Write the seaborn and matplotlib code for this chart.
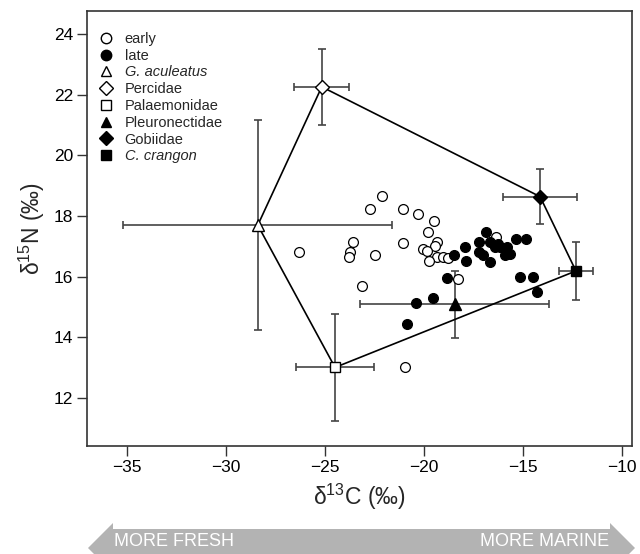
import matplotlib
matplotlib.use("Agg")
import matplotlib.pyplot as plt
import seaborn as sns
import numpy as np
import pandas as pd
from matplotlib.lines import Line2D
from matplotlib.patches import Polygon

# ---------------- data ----------------
early_x = [-22.13, -22.75, -21.05, -20.30, -19.49, -19.80, -23.56, -21.04, -19.32, -19.44,
           -26.29, -23.73, -23.78, -22.45, -20.06, -19.86, -19.32, -19.02, -18.80, -19.76,
           -23.14, -18.29, -20.94, -16.36]
early_y = [18.67, 18.23, 18.22, 18.08, 17.83, 17.46, 17.15, 17.10, 17.14, 17.01,
           16.82, 16.80, 16.64, 16.70, 16.90, 16.85, 16.66, 16.64, 16.62, 16.52,
           15.69, 15.92, 13.01, 17.32]

late_x = [-18.48, -17.91, -17.86, -17.20, -17.20, -18.85, -19.53, -20.41, -20.87, -16.87,
          -16.66, -16.25, -16.41, -16.16, -15.82, -15.35, -14.85, -17.03, -16.66, -15.91,
          -15.66, -15.15, -14.48, -14.31]
late_y = [16.71, 16.97, 16.52, 17.13, 16.82, 15.95, 15.31, 15.14, 14.43, 17.46,
          17.15, 17.08, 16.97, 16.99, 16.99, 17.24, 17.24, 16.71, 16.49, 16.71,
          16.74, 15.98, 15.98, 15.49]

groups = ["G. aculeatus", "Percidae", "Palaemonidae", "Pleuronectidae", "Gobiidae", "C. crangon"]
group_x = [-28.39, -25.16, -24.49, -18.45, -14.14, -12.33]
group_y = [17.70, 22.26, 13.01, 15.09, 18.64, 16.19]
group_xerr = [6.80, 1.39, 1.96, 4.78, 1.85, 0.88]
group_yerr = [3.47, 1.25, 1.76, 1.10, 0.90, 0.95]
group_marker = ["^", "D", "s", "^", "D", "s"]
group_filled = [False, False, False, True, True, True]

# hull order (indices into groups)
hull_order = [1, 4, 5, 2, 0, 1]

x_ticks = [-35, -30, -25, -20, -15, -10]
y_ticks = [12, 14, 16, 18, 20, 22, 24]

# ---------------- style ----------------
sns.set_theme(style="ticks")
plt.rcParams["font.family"] = ["Liberation Sans", "DejaVu Sans"]
plt.rcParams["mathtext.fontset"] = "custom"
plt.rcParams["mathtext.rm"] = "Liberation Sans"
plt.rcParams["mathtext.it"] = "Liberation Sans:italic"

W, H = 640, 554
fig = plt.figure(figsize=(W / 100, H / 100), dpi=100)
ax = fig.add_axes([87.2 / W, 1 - 446 / H, (632 - 87.2) / W, (446 - 11) / H])

# hull polygon
ax.plot([group_x[i] for i in hull_order], [group_y[i] for i in hull_order],
        color="black", lw=1.2, zorder=2)

# error bars
for gx, gy, ex, ey in zip(group_x, group_y, group_xerr, group_yerr):
    ax.errorbar(gx, gy, xerr=ex, yerr=ey, fmt="none", ecolor="#444444",
                elinewidth=1.2, capsize=3.2, capthick=1.2, zorder=1)

# scatter points
df = pd.DataFrame({
    "x": early_x + late_x,
    "y": early_y + late_y,
    "period": ["early"] * len(early_x) + ["late"] * len(late_x),
})
sns.scatterplot(data=df[df.period == "early"], x="x", y="y", ax=ax, s=50,
                facecolor="white", edgecolor="black", linewidth=0.9, zorder=3, legend=False)
sns.scatterplot(data=df[df.period == "late"], x="x", y="y", ax=ax, s=50,
                color="black", edgecolor="black", linewidth=0.9, zorder=4, legend=False)

# group markers
msize = {"^": 8.5, "D": 7.5, "s": 7.5}
for gx, gy, m, f in zip(group_x, group_y, group_marker, group_filled):
    ax.plot(gx, gy, marker=m, ms=msize[m], mfc="black" if f else "white",
            mec="black", mew=1.0, ls="none", zorder=5)

ax.set_xlim(-37.0, -9.5)
ax.set_ylim(10.42, 24.76)
ax.set_xticks(x_ticks)
ax.set_yticks(y_ticks)
ax.tick_params(axis="both", direction="out", length=7, width=1.0, colors="#333333",
               labelsize=12.5, labelcolor="black", pad=3)
for sp in ax.spines.values():
    sp.set_color("#333333")
    sp.set_linewidth(1.2)

ax.set_xlabel("δ$^{13}$C (‰)", fontsize=16.5, labelpad=5)
ax.set_ylabel("δ$^{15}$N (‰)", fontsize=16.5, labelpad=5)

# legend
legend_entries = [
    ("o", False, "early", "normal"),
    ("o", True, "late", "normal"),
    ("^", False, "G. aculeatus", "italic"),
    ("D", False, "Percidae", "normal"),
    ("s", False, "Palaemonidae", "normal"),
    ("^", True, "Pleuronectidae", "normal"),
    ("D", True, "Gobiidae", "normal"),
    ("s", True, "C. crangon", "italic"),
]
handles = [Line2D([], [], marker=m, ls="none", ms=7.5 if m != "D" else 7,
                  mfc="black" if f else "white", mec="black", mew=1.0)
           for m, f, _, _ in legend_entries]
labels = [lab for _, _, lab, _ in legend_entries]
leg = ax.legend(handles, labels, loc="upper left", bbox_to_anchor=(0.002, 0.972),
                frameon=False, fontsize=10.5, labelspacing=0.19, handletextpad=0.7,
                handlelength=1.2, borderaxespad=0.2)
for txt, (_, _, _, style) in zip(leg.get_texts(), legend_entries):
    txt.set_fontstyle(style)

# bottom arrow (figure pixel coords, y from top)
pts_img = [(88, 548), (113, 523), (113, 529), (610, 529), (610, 523), (635, 548),
           (610, 573), (610, 567), (113, 567), (113, 573)]
pts = [(x, H - y) for x, y in pts_img]
arrow = Polygon(pts, closed=True, transform=None, facecolor="#b3b3b3", edgecolor="none")
fig.patches.append(arrow)
fig.text(114 / W, 1 - 542 / H, "MORE FRESH", color="white", fontsize=13,
         ha="left", va="center")
fig.text(609 / W, 1 - 542 / H, "MORE MARINE", color="white", fontsize=13,
         ha="right", va="center")

fig.savefig("out.png", dpi=100)
